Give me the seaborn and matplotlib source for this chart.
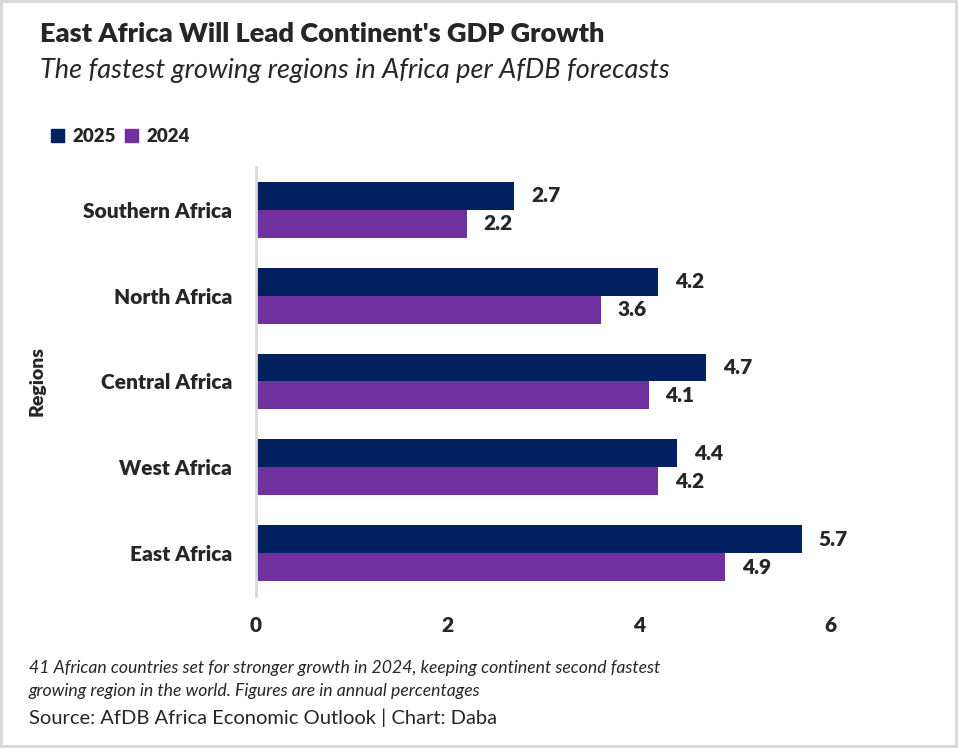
import pandas as pd
import matplotlib.pyplot as plt
import seaborn as sns
from matplotlib.patches import Patch

sns.set_style("white")
plt.rcParams["font.family"] = ["Lato", "DejaVu Sans"]

regions = ["Southern Africa", "North Africa", "Central Africa", "West Africa", "East Africa"]
gdp_2025 = [2.7, 4.2, 4.7, 4.4, 5.7]
gdp_2024 = [2.2, 3.6, 4.1, 4.2, 4.9]
years = ["2025", "2024"]
colors = ["#002060", "#7030A0"]

df = pd.DataFrame({
    "region": regions * 2,
    "growth": gdp_2025 + gdp_2024,
    "year": ["2025"] * len(regions) + ["2024"] * len(regions),
})

BOLD = "heavy"

fig = plt.figure(figsize=(9.58, 7.48), dpi=100, edgecolor="#d9d9d9", linewidth=3)
ax = fig.add_axes([0.267, 0.203, 0.64, 0.574])

sns.barplot(data=df, y="region", x="growth", hue="year", hue_order=years,
            order=regions, palette=colors, width=0.65, saturation=1, linewidth=0,
            ax=ax, legend=False)

for cont in ax.containers:
    ax.bar_label(cont, fmt="%.1f", padding=12, fontsize=15, fontweight=BOLD)

ax.set_xlim(0, 6.4)
ax.set_xticks([0, 2, 4, 6])
ax.set_xlabel("")
ax.set_ylabel("Regions", fontsize=14, fontweight=BOLD)
ax.yaxis.set_label_coords(-0.343, 0.5)
ax.tick_params(axis="x", labelsize=15, pad=14, length=0)
ax.tick_params(axis="y", labelsize=15, pad=17, length=0)
for lbl in ax.get_xticklabels() + ax.get_yticklabels():
    lbl.set_fontweight(BOLD)
for s in ["top", "right", "bottom"]:
    ax.spines[s].set_visible(False)
ax.spines["left"].set_color("#d9d9d9")
ax.spines["left"].set_linewidth(2)

fig.text(0.042, 0.955, "East Africa Will Lead Continent's GDP Growth",
         fontsize=19.5, fontweight=BOLD, va="center")
fig.text(0.042, 0.906, "The fastest growing regions in Africa per AfDB forecasts",
         fontsize=19.5, style="italic", va="center")

handles = [Patch(color=c, label=y) for c, y in zip(colors, years)]
leg = fig.legend(handles=handles, loc="center left", bbox_to_anchor=(0.036, 0.818),
                 ncol=2, frameon=False, handlelength=0.7, handleheight=0.7,
                 handletextpad=0.45, columnspacing=0.45, prop={"weight": BOLD, "size": 13.5})

fig.text(0.03, 0.092, "41 African countries set for stronger growth in 2024, keeping continent second fastest\n"
         "growing region in the world. Figures are in annual percentages",
         fontsize=12.7, style="italic", va="center", linespacing=1.55)
fig.text(0.03, 0.041, "Source: AfDB Africa Economic Outlook | Chart: Daba", fontsize=14.5, va="center")

fig.savefig("out.png", dpi=100, edgecolor=fig.get_edgecolor())
